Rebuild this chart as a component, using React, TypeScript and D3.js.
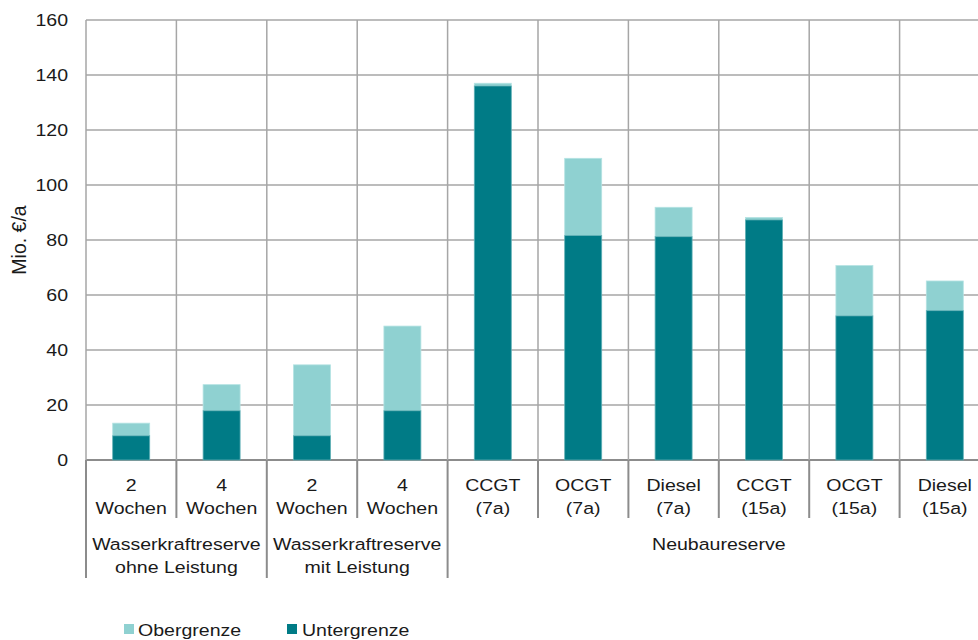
import React from "react";
import * as d3 from "d3";

const categories = ["c1", "c2", "c3", "c4", "c5", "c6", "c7", "c8", "c9", "c10"];
const labelLine1 = ["2", "4", "2", "4", "CCGT", "OCGT", "Diesel", "CCGT", "OCGT", "Diesel"];
const labelLine2 = ["Wochen", "Wochen", "Wochen", "Wochen", "(7a)", "(7a)", "(7a)", "(15a)", "(15a)", "(15a)"];
const untergrenze = [8.8, 17.9, 8.8, 17.9, 136, 81.6, 81.2, 87.3, 52.4, 54.3];
const obergrenzeTotal = [13.4, 27.4, 34.6, 48.7, 137, 109.7, 91.9, 88.2, 70.7, 65.1];
const groups = [
  { lines: ["Wasserkraftreserve", "ohne Leistung"], start: 0, end: 2 },
  { lines: ["Wasserkraftreserve", "mit Leistung"], start: 2, end: 4 },
  { lines: ["Neubaureserve"], start: 4, end: 10 },
];
const yTicks = [0, 20, 40, 60, 80, 100, 120, 140, 160];

const DARK = "#007b86";
const LIGHT = "#8fd1d1";
const GRID = "#a6a6a6";
const AXIS = "#8c8c8c";
const FONT = "Liberation Sans, Arial, sans-serif";
const SX = 1.15;

function T({ x, y, children, anchor = "middle", size = 17 }: any) {
  return (
    <g transform={`translate(${x},${y}) scale(${SX},1)`}>
      <text x={0} y={0} textAnchor={anchor} fontFamily={FONT} fontSize={size} fill="#1a1a1a">
        {children}
      </text>
    </g>
  );
}

export default function App() {
  const left = 86;
  const right = 990;
  const top = 20;
  const bottom = 460;
  const x = d3.scaleBand<string>().domain(categories).range([left, right]).padding(0);
  const y = d3.scaleLinear().domain([0, 160]).range([bottom, top]);
  const step = x.step();
  const bw = 37;
  const edge = (i: number) => left + i * step;

  return (
    <svg width={978} height={640} style={{ position: "absolute", left: 0, top: 0, background: "#fff" }}>
      {/* horizontal grid */}
      {yTicks.map((t) => (
        <line key={"h" + t} x1={left} x2={978} y1={y(t)} y2={y(t)} stroke={t === 0 ? AXIS : GRID} strokeWidth={t === 0 ? 2 : 1.5} />
      ))}
      {/* vertical grid */}
      {categories.map((c, i) => (
        <line key={"v" + c} x1={edge(i)} x2={edge(i)} y1={top} y2={bottom} stroke={GRID} strokeWidth={1.5} />
      ))}
      {/* bars */}
      {categories.map((c, i) => {
        const cx = (x(c) as number) + x.bandwidth() / 2;
        return (
          <g key={"b" + c}>
            <rect x={cx - bw / 2} width={bw} y={y(obergrenzeTotal[i])} height={y(untergrenze[i]) - y(obergrenzeTotal[i])} fill={LIGHT} stroke="#b5e3e3" strokeWidth={0.8} />
            <rect x={cx - bw / 2} width={bw} y={y(untergrenze[i])} height={y(0) - y(untergrenze[i])} fill={DARK} stroke="#5fb0b5" strokeWidth={0.8} />
          </g>
        );
      })}
      {/* y tick labels */}
      {yTicks.map((t) => (
        <T key={"yt" + t} x={68} y={y(t) + 6} anchor="end">{t}</T>
      ))}
      {/* y title */}
      <g transform={`translate(26,240) rotate(-90)`}>
        <text textAnchor="middle" fontFamily={FONT} fontSize={19.5} fill="#1a1a1a">Mio. €/a</text>
      </g>
      {/* separators below axis */}
      {d3.range(0, 11).map((i) => {
        const isGroup = groups.some((g) => g.start === i || g.end === i);
        return (
          <line key={"s" + i} x1={edge(i)} x2={edge(i)} y1={bottom} y2={isGroup ? 578 : 518} stroke={AXIS} strokeWidth={2} />
        );
      })}
      {/* category labels */}
      {categories.map((c, i) => {
        const cx = (x(c) as number) + x.bandwidth() / 2;
        return (
          <g key={"l" + c}>
            <T x={cx} y={491}>{labelLine1[i]}</T>
            <T x={cx} y={514}>{labelLine2[i]}</T>
          </g>
        );
      })}
      {/* group labels */}
      {groups.map((g, gi) => {
        const cx = (edge(g.start) + edge(g.end)) / 2;
        return (
          <g key={"g" + gi}>
            {g.lines.map((l, li) => (
              <T key={li} x={cx} y={549.5 + li * 23}>{l}</T>
            ))}
          </g>
        );
      })}
      {/* legend */}
      <rect x={124} y={624} width={10} height={10} fill={LIGHT} />
      <T x={138} y={636} anchor="start">Obergrenze</T>
      <rect x={287} y={624} width={10} height={10} fill={DARK} />
      <T x={302} y={636} anchor="start">Untergrenze</T>
    </svg>
  );
}
